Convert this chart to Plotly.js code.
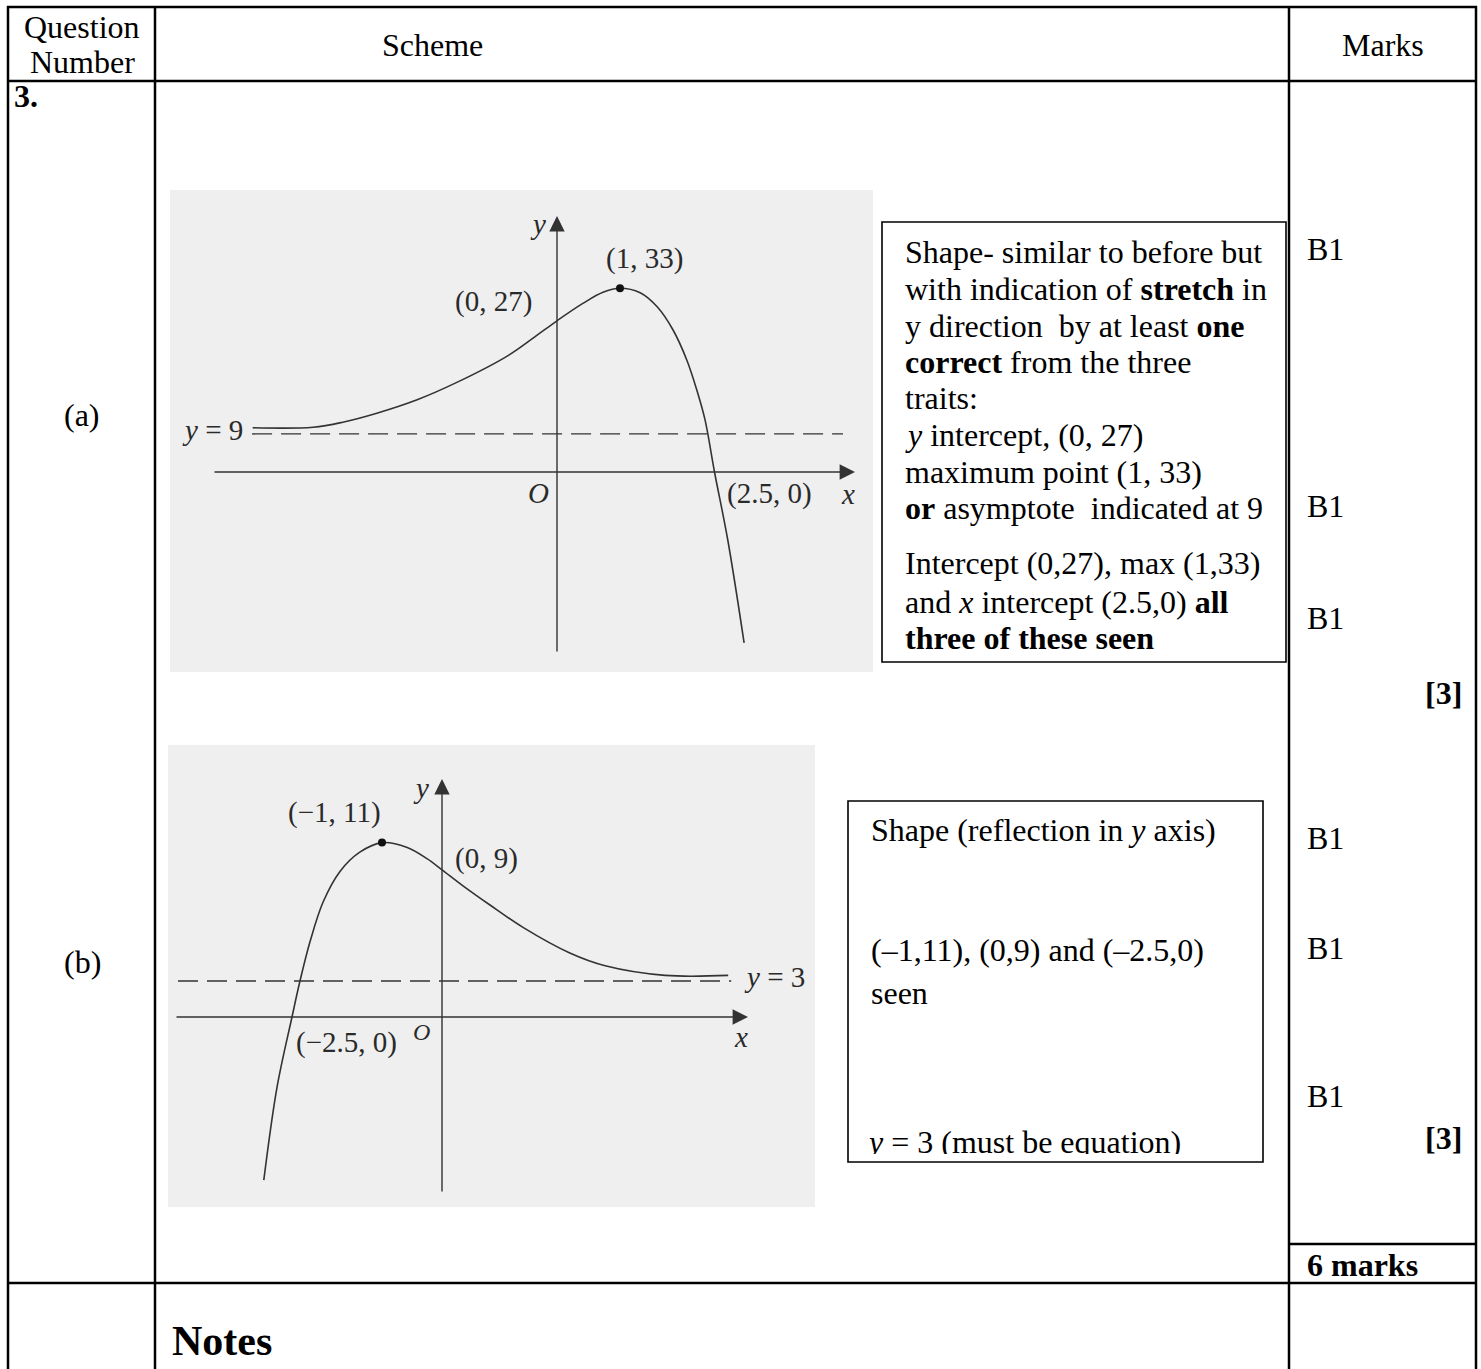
<!DOCTYPE html>
<html>
<head>
<meta charset="utf-8">
<script src="https://cdn.plot.ly/plotly-3.0.1.min.js"></script>
<style>html,body{margin:0;padding:0;background:#fff;}#chart{width:1481px;height:1369px;}</style>
</head>
<body>
<div id="chart"></div>
<script>
// ---------- DATA (sketch units) ----------
// Graph (a): y = f(x) stretched
const curveA_x = [-4.83, -3.87, -3.4, -2.86, -2.22, -1.59, -0.79, -0.38, 0, 0.41, 0.73, 1, 1.32, 1.59, 1.84, 2.06, 2.22, 2.35, 2.5, 2.71, 2.97];
const curveA_y = [7.9, 8.0, 8.9, 10.5, 12.9, 16.0, 20.7, 23.9, 27, 30.1, 32.1, 32.8, 32.0, 29.5, 25.4, 20.0, 14.6, 9.3, 0, -12.1, -30.5];
const maxA_x = [1];
const maxA_y = [32.8];
const asymA_y = [6.8, 6.8];          // drawn position of the dashed asymptote
const asymA_x = [-4.84, 4.54];
const labelsA = ['(1, 33)', '(0, 27)', '(2.5, 0)', '<i>y</i> = 9'];

// Graph (b): reflection in y axis
const curveB_x = [-2.97, -2.75, -2.5, -2.37, -2.2, -1.98, -1.7, -1.37, -1, -0.58, -0.25, 0, 0.35, 0.8, 1.35, 2.13, 2.72, 3.72, 4.77];
const curveB_y = [-10.2, -4.4, 0, 2.2, 4.7, 7.2, 9.1, 10.3, 10.9, 10.6, 9.9, 9.2, 8.2, 7.0, 5.6, 4.0, 3.2, 2.6, 2.6];
const maxB_x = [-1];
const maxB_y = [10.9];
const asymB_y = [2.25, 2.25];
const asymB_x = [-4.4, 4.82];
const labelsB = ['(\u22121, 11)', '(0, 9)', '(\u22122.5, 0)', '<i>y</i> = 3'];

// Table text
const headers = ['Question<br>Number', 'Scheme', 'Marks'];
const partLabels = ['(a)', '(b)'];
const marksA = ['B1', 'B1', 'B1'];
const marksB = ['B1', 'B1', 'B1'];
const subtotals = ['[3]', '[3]'];
const total = '6 marks';
const boxA = [
  'Shape- similar to before but',
  'with indication of <b>stretch</b> in',
  'y direction  by at least <b>one</b>',
  '<b>correct</b> from the three',
  'traits:',
  '<i>y</i> intercept, (0, 27)',
  'maximum point (1, 33)',
  '<b>or</b> asymptote  indicated at 9',
  'Intercept (0,27), max (1,33)',
  'and <i>x</i> intercept (2.5,0) <b>all</b>',
  '<b>three of these seen</b>'
];
const boxB = [
  'Shape (reflection in <i>y</i> axis)',
  '(\u20131,11), (0,9) and (\u20132.5,0)',
  'seen'
];
const boxB_last = '<i>y</i> = 3 (must be equation)';

// ---------- LAYOUT GEOMETRY (pixels) ----------
const W = 1481, H = 1369;
const px = x => x / W;
const py = y => 1 - y / H;
const SERIF = 'Liberation Serif, Times New Roman, serif';
const INK = '#000';
const SK = '#333';

// sketch frames: pixel rect, origin pixel, px per unit
const frA = {l:170, r:873, t:190, b:672, ox:557, oy:472, ux:63, uy:5.6};
const frB = {l:168, r:815, t:745, b:1207, ox:442, oy:1017, ux:60, uy:16};
function xr(f){ return [(f.l - f.ox)/f.ux, (f.r - f.ox)/f.ux]; }
function yr(f){ return [(f.oy - f.b)/f.uy, (f.oy - f.t)/f.uy]; }
const ux = (f, p) => (p - f.ox)/f.ux;
const uy = (f, p) => (f.oy - p)/f.uy;

const shapes = [];
function hline(y, x0, x1, w){ shapes.push({type:'line', xref:'paper', yref:'paper', x0:px(x0), x1:px(x1), y0:py(y), y1:py(y), line:{color:INK, width:w||2.5}}); }
function vline(x, y0, y1, w){ shapes.push({type:'line', xref:'paper', yref:'paper', x0:px(x), x1:px(x), y0:py(y0), y1:py(y1), line:{color:INK, width:w||2.5}}); }
function rect(x0, y0, x1, y1, fill, lw, layer){ shapes.push({type:'rect', xref:'paper', yref:'paper', x0:px(x0), x1:px(x1), y0:py(y1), y1:py(y0), fillcolor:fill||'rgba(0,0,0,0)', line:{color:INK, width:lw||0}, layer:layer||'above'}); }

// grey sketch backgrounds
rect(frA.l, frA.t, frA.r, frA.b, '#efefef', 0, 'below');
rect(frB.l, frB.t, frB.r, frB.b, '#efefef', 0, 'below');

// table rules
hline(7, 7, 1477);
hline(81, 7, 1477);
hline(1244, 1289, 1477);
hline(1283, 7, 1477);
vline(8, 6, 1369);
vline(155, 6, 1369);
vline(1289, 6, 1369);
vline(1476, 6, 1369);
// text boxes
rect(882, 222, 1286, 662, null, 1.6);
rect(848, 801, 1263, 1162, null, 1.6);

const ann = [];
function txt(text, x, y, o){
  o = o || {};
  ann.push({xref:'paper', yref:'paper', x:px(x), y:py(y), text:text, showarrow:false,
    xanchor:o.xa||'left', yanchor:'middle', align:o.xa||'left',
    font:{family:SERIF, size:o.size||32, color:o.color||INK}});
}
// headers
const hd = headers[0].split('<br>');
txt(hd[0], 82, 27, {xa:'center'});
txt(hd[1], 82, 62, {xa:'center'});
txt(headers[1], 432, 45, {xa:'center'});
txt(headers[2], 1383, 45, {xa:'center'});
txt('<b>3.</b>', 12, 96);
txt(partLabels[0], 82, 415, {xa:'center'});
txt(partLabels[1], 82, 962, {xa:'center'});
[249, 506, 618].forEach((y, i) => txt(marksA[i], 1305, y));
[838, 948, 1096].forEach((y, i) => txt(marksB[i], 1305, y));
txt('<b>' + subtotals[0] + '</b>', 1464, 693, {xa:'right'});
txt('<b>' + subtotals[1] + '</b>', 1464, 1138, {xa:'right'});
txt('<b>' + total + '</b>', 1305, 1265);
txt('<b>Notes</b>', 170, 1341, {size:42});

[252, 289, 326, 362, 398, 435, 472, 508, 563, 602, 638].forEach((y, i) => txt(boxA[i], 903, y));
[830, 950, 993].forEach((y, i) => txt(boxB[i], 869, y));

// sketch labels
const SL = {size:29, color:'#2a2a2a'};
const C = o => Object.assign({xa:'center'}, SL, o || {});
txt('<i>y</i>', 538, 224, C());
txt(labelsA[0], 644, 258, C());
txt(labelsA[1], 494, 302, C());
txt(labelsA[2], 769, 493, C());
txt(labelsA[3], 212, 430, C());
txt('<i>O</i>', 538, 493, C());
txt('<i>x</i>', 848, 494, C());

txt('<i>y</i>', 421, 788, C());
txt(labelsB[0], 334, 813, C());
txt(labelsB[1], 486, 858, C());
txt(labelsB[2], 346, 1042, C());
txt(labelsB[3], 774, 977, C());
txt('<i>O</i>', 421, 1032, C({size:24}));
txt('<i>x</i>', 741, 1037, C());

// sketch axes with arrowheads
function axArrow(xa, ya, x, y, ax, ay){
  ann.push({xref:xa, yref:ya, axref:xa, ayref:ya, x:x, y:y, ax:ax, ay:ay, text:'', showarrow:true,
    arrowhead:2, arrowsize:2.2, arrowwidth:1.4, arrowcolor:'#333', standoff:0, startstandoff:0});
}
axArrow('x', 'y', ux(frA, 855), 0, ux(frA, 213), 0);
axArrow('x', 'y', 0, uy(frA, 216), 0, uy(frA, 653));
axArrow('x2', 'y2', ux(frB, 748), 0, ux(frB, 175), 0);
axArrow('x2', 'y2', 0, uy(frB, 779), 0, uy(frB, 1193));

const lineStyle = {color:SK, width:1.6, shape:'spline', smoothing:1};
const dashStyle = {color:'#333', width:1.4, dash:'20px,9px'};
const traces = [
  {x:curveA_x, y:curveA_y, xaxis:'x', yaxis:'y', mode:'lines', line:lineStyle, hoverinfo:'skip'},
  {x:asymA_x, y:asymA_y, xaxis:'x', yaxis:'y', mode:'lines', line:dashStyle, hoverinfo:'skip'},
  {x:maxA_x, y:maxA_y, xaxis:'x', yaxis:'y', mode:'markers', marker:{color:'#111', size:8}, hoverinfo:'skip'},
  {x:curveB_x, y:curveB_y, xaxis:'x2', yaxis:'y2', mode:'lines', line:lineStyle, hoverinfo:'skip'},
  {x:asymB_x, y:asymB_y, xaxis:'x2', yaxis:'y2', mode:'lines', line:dashStyle, hoverinfo:'skip'},
  {x:maxB_x, y:maxB_y, xaxis:'x2', yaxis:'y2', mode:'markers', marker:{color:'#111', size:8}, hoverinfo:'skip'},
  // last line of box (b), clipped by the box like in the source
  {x:[869], y:[1145], xaxis:'x3', yaxis:'y3', mode:'text', text:[boxB_last], textposition:'middle right',
   textfont:{family:SERIF, size:32, color:INK}, cliponaxis:true, hoverinfo:'skip'}
];

const hidden = {visible:false, showgrid:false, zeroline:false, fixedrange:true};
const layout = {
  width:W, height:H, margin:{l:0, r:0, t:0, b:0},
  paper_bgcolor:'#fff', plot_bgcolor:'rgba(0,0,0,0)', showlegend:false,
  xaxis: Object.assign({domain:[px(frA.l), px(frA.r)], range:xr(frA), anchor:'y'}, hidden),
  yaxis: Object.assign({domain:[py(frA.b), py(frA.t)], range:yr(frA), anchor:'x'}, hidden),
  xaxis2: Object.assign({domain:[px(frB.l), px(frB.r)], range:xr(frB), anchor:'y2'}, hidden),
  yaxis2: Object.assign({domain:[py(frB.b), py(frB.t)], range:yr(frB), anchor:'x2'}, hidden),
  xaxis3: Object.assign({domain:[px(850), px(1261)], range:[850, 1261], anchor:'y3'}, hidden),
  yaxis3: Object.assign({domain:[py(1154), py(803)], range:[1154, 803], anchor:'x3'}, hidden),
  shapes: shapes,
  annotations: ann
};
Plotly.newPlot('chart', traces, layout, {staticPlot:true, displayModeBar:false});
</script>
</body>
</html>
